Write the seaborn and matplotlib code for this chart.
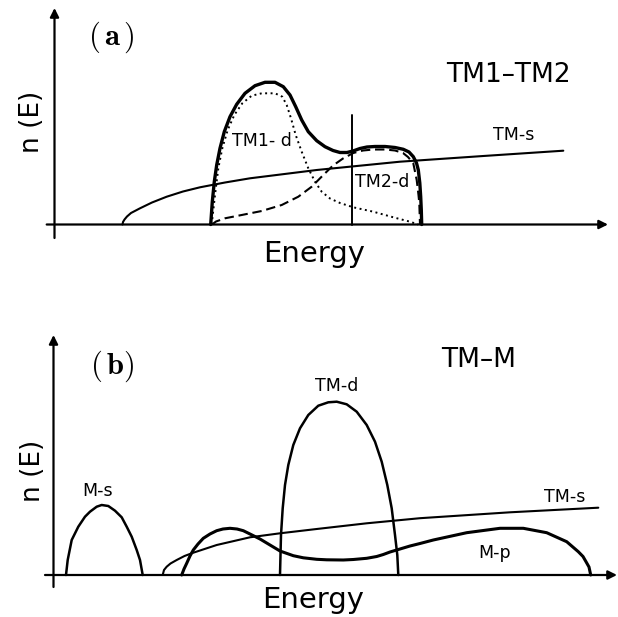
import matplotlib
matplotlib.use("Agg")
import matplotlib.pyplot as plt
import seaborn as sns

sns.set_style("white")
plt.rcParams["font.family"] = ["DejaVu Sans"]
plt.rcParams["mathtext.fontset"] = "cm"
plt.rcParams["text.color"] = "black"
plt.rcParams["lines.solid_joinstyle"] = "round"
plt.rcParams["lines.solid_capstyle"] = "round"

# ---------------- panel (a): TM1-TM2 ----------------
# energy (arb. units) and density of states n(E) (arb. units)
a_tms_E = [0.68, 0.685, 0.70, 0.725, 0.765, 0.855, 0.975, 1.122, 1.285, 1.455, 1.705, 1.955,
           2.622, 3.455, 4.288, 5.088]
a_tms_n = [0.00, 0.025, 0.05, 0.08, 0.115, 0.162, 0.22, 0.278, 0.33, 0.372, 0.42, 0.462,
           0.545, 0.628, 0.685, 0.738]

a_tot_E = [1.562, 1.578, 1.598, 1.622, 1.655, 1.698, 1.755, 1.822, 1.905, 2.005, 2.105, 2.205,
           2.288, 2.355, 2.412, 2.472, 2.538, 2.622, 2.705, 2.785, 2.855, 2.925, 2.985, 3.055,
           3.125, 3.205, 3.305, 3.405, 3.488, 3.545, 3.588, 3.62, 3.638, 3.653, 3.662, 3.668,
           3.672]
a_tot_n = [0.00, 0.228, 0.428, 0.595, 0.762, 0.928, 1.078, 1.202, 1.312, 1.388, 1.422, 1.422,
           1.378, 1.295, 1.178, 1.045, 0.928, 0.838, 0.778, 0.74, 0.72, 0.72, 0.735, 0.76,
           0.775, 0.78, 0.78, 0.77, 0.752, 0.725, 0.678, 0.615, 0.545, 0.415, 0.278, 0.145,
           0.00]

a_tm1_E = [1.572, 1.605, 1.638, 1.678, 1.732, 1.798, 1.878, 1.972, 2.072, 2.205, 2.278, 2.322,
           2.365, 2.412, 2.472, 2.538, 2.605, 2.672, 2.755, 2.855, 2.988, 3.188, 3.388, 3.555,
           3.638]
a_tm1_n = [0.00, 0.295, 0.562, 0.762, 0.945, 1.095, 1.212, 1.288, 1.312, 1.312, 1.278, 1.195,
           1.062, 0.895, 0.728, 0.562, 0.428, 0.328, 0.26, 0.215, 0.172, 0.128, 0.072, 0.028,
           0.00]

a_tm2_E = [1.575, 1.615, 1.705, 1.872, 2.072, 2.272, 2.438, 2.572, 2.688, 2.785, 2.885, 2.988,
           3.085, 3.188, 3.305, 3.405, 3.485, 3.535, 3.588, 3.622, 3.64, 3.648, 3.655]
a_tm2_n = [0.00, 0.03, 0.062, 0.095, 0.135, 0.195, 0.278, 0.378, 0.495, 0.59, 0.66, 0.715,
           0.74, 0.75, 0.75, 0.74, 0.715, 0.675, 0.612, 0.445, 0.295, 0.212, 0.00]

a_fermi_E = 2.978
a_fermi_top = 1.095

# ---------------- panel (b): TM-M ----------------
b_ms_E = [0.125, 0.142, 0.182, 0.248, 0.315, 0.365, 0.432, 0.482, 0.548, 0.615, 0.682, 0.732,
          0.782, 0.832, 0.865, 0.892]
b_ms_n = [0.00, 0.15, 0.35, 0.483, 0.583, 0.633, 0.683, 0.70, 0.69, 0.643, 0.577, 0.483,
          0.383, 0.25, 0.15, 0.00]

b_tmd_E = [2.265, 2.275, 2.292, 2.315, 2.348, 2.398, 2.465, 2.548, 2.648, 2.748, 2.832, 2.932,
           3.032, 3.132, 3.215, 3.282, 3.338, 3.382, 3.415, 3.438, 3.448]
b_tmd_n = [0.00, 0.40, 0.667, 0.90, 1.10, 1.30, 1.467, 1.60, 1.693, 1.727, 1.733, 1.707,
           1.633, 1.50, 1.333, 1.133, 0.90, 0.667, 0.40, 0.20, 0.00]

b_tms_E = [1.092, 1.105, 1.132, 1.17, 1.232, 1.31, 1.398, 1.632, 1.965, 2.265, 2.632, 3.132,
           3.665, 4.565, 5.448]
b_tms_n = [0.00, 0.05, 0.083, 0.115, 0.15, 0.19, 0.223, 0.30, 0.377, 0.417, 0.46, 0.517,
           0.568, 0.627, 0.673]

b_mp_E = [1.282, 1.305, 1.332, 1.365, 1.398, 1.445, 1.498, 1.565, 1.632, 1.695, 1.765, 1.835,
          1.898, 1.975, 2.065, 2.165, 2.265, 2.398, 2.498, 2.632, 2.732, 2.898, 2.998,
          3.132, 3.232, 3.298, 3.365, 3.465, 3.565, 3.665, 3.798, 4.132, 4.465, 4.698, 4.932,
          5.132, 5.248, 5.295, 5.325, 5.355, 5.372]
b_mp_n = [0.00, 0.06, 0.117, 0.19, 0.25, 0.31, 0.367, 0.41, 0.443, 0.46, 0.467, 0.46,
          0.443, 0.405, 0.36, 0.30, 0.24, 0.193, 0.172, 0.157, 0.152, 0.15, 0.155,
          0.167, 0.185, 0.205, 0.23, 0.26, 0.29, 0.315, 0.35, 0.423, 0.467, 0.467, 0.423,
          0.333, 0.233, 0.185, 0.133, 0.08, 0.00]

W, H = 618, 617
fig = plt.figure(figsize=(W / 100, H / 100), dpi=100)

# both panels use 1 data unit = 100 px, origin at the axis crossing
ax_a = fig.add_axes([0, 1 - 290 / H, 1, 290 / H])
ax_a.set_xlim(-0.545, 5.635)
ax_a.set_ylim(-0.655, 2.245)

ax_b = fig.add_axes([0, 0, 1, 317 / H])
ax_b.set_xlim(-0.535, 5.645)
ax_b.set_ylim(-0.42, 2.75)

for ax in (ax_a, ax_b):
    ax.axis("off")


def draw_axes(ax, x0, x1, y0, y1):
    arrow = dict(arrowstyle="-|>", lw=1.6, color="black", mutation_scale=13,
                 shrinkA=0, shrinkB=0)
    ax.annotate("", xy=(x1, 0), xytext=(x0, 0), arrowprops=arrow)
    ax.annotate("", xy=(0, y1), xytext=(0, y0), arrowprops=arrow)


def curve(ax, E, n, lw, ls="-"):
    sns.lineplot(x=E, y=n, ax=ax, color="black", lw=lw, linestyle=ls,
                 sort=False, estimator=None, legend=False)


# panel (a)
draw_axes(ax_a, -0.078, 5.535, -0.135, 2.165)
curve(ax_a, a_tms_E, a_tms_n, 1.5)
curve(ax_a, a_tm1_E, a_tm1_n, 1.4, (0, (1, 1.8)))
curve(ax_a, a_tm2_E, a_tm2_n, 1.5, (0, (4.5, 2.3)))
curve(ax_a, a_tot_E, a_tot_n, 2.4)
ax_a.plot([a_fermi_E, a_fermi_E], [0, a_fermi_top], color="black", lw=1.4)

ax_a.text(0.565, 1.875, r"$(\,\mathbf{a}\,)$", fontsize=22, ha="center", va="center")
ax_a.text(-0.228, 1.025, "n (E)", fontsize=19, rotation=90, ha="center", va="center")
ax_a.text(4.535, 1.50, "TM1–TM2", fontsize=19, ha="center", va="center")
ax_a.text(4.595, 0.895, "TM-s", fontsize=12.5, ha="center", va="center")
ax_a.text(2.072, 0.83, "TM1- d", fontsize=12.5, ha="center", va="center")
ax_a.text(3.28, 0.428, "TM2-d", fontsize=12.5, ha="center", va="center")
ax_a.text(2.593, -0.372, "Energy", fontsize=21, ha="center", va="baseline")

# panel (b)
draw_axes(ax_b, -0.085, 5.635, -0.12, 2.40)
curve(ax_b, b_ms_E, b_ms_n, 1.8)
curve(ax_b, b_tms_E, b_tms_n, 1.5)
curve(ax_b, b_tmd_E, b_tmd_n, 1.8)
curve(ax_b, b_mp_E, b_mp_n, 2.2)

ax_b.text(0.585, 2.09, r"$(\,\mathbf{b})$", fontsize=22, ha="center", va="center")
ax_b.text(-0.20, 1.04, "n (E)", fontsize=19, rotation=90, ha="center", va="center")
ax_b.text(4.252, 2.15, "TM–M", fontsize=19, ha="center", va="center")
ax_b.text(0.44, 0.84, "M-s", fontsize=12.5, ha="center", va="center")
ax_b.text(2.831, 1.89, "TM-d", fontsize=12.5, ha="center", va="center")
ax_b.text(5.115, 0.785, "TM-s", fontsize=12.5, ha="center", va="center")
ax_b.text(4.412, 0.22, "M-p", fontsize=12.5, ha="center", va="center")
ax_b.text(2.595, -0.333, "Energy", fontsize=21, ha="center", va="baseline")

fig.savefig("out.png", dpi=100, facecolor="white")
